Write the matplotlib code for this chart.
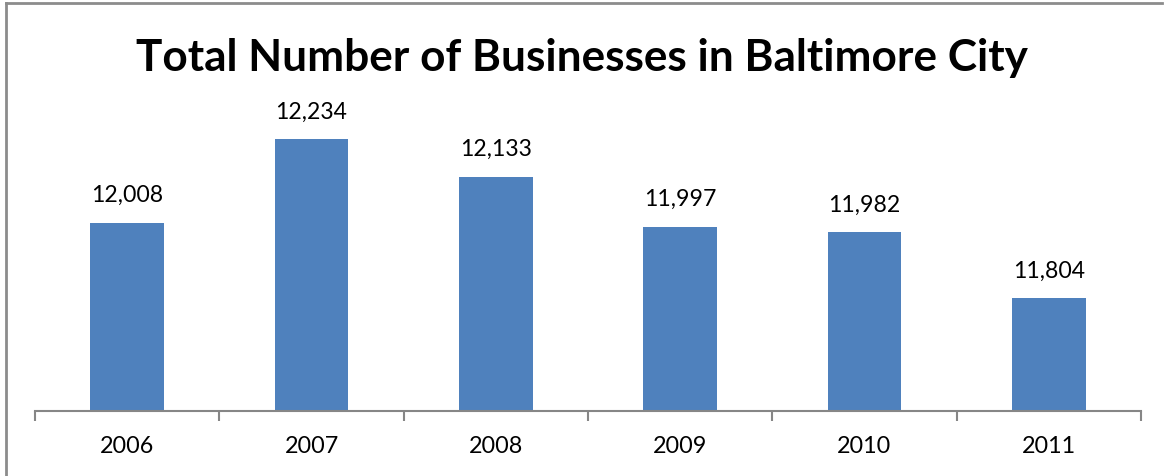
import matplotlib.pyplot as plt
from matplotlib.lines import Line2D

years = ['2006', '2007', '2008', '2009', '2010', '2011']
businesses = [12008, 12234, 12133, 11997, 11982, 11804]

plt.rcParams['font.family'] = ['Lato', 'DejaVu Sans']

W, H = 1164, 476
fig = plt.figure(figsize=(W / 100, H / 100), dpi=100)

# plot area in pixel coords
x0, x1 = 35, 1141
ybase, ytop = 411, 100
ax = fig.add_axes([x0 / W, (H - ybase) / H, (x1 - x0) / W, (ybase - ytop) / H])

pos = list(range(len(years)))
ax.bar(pos, businesses, width=0.4, color='#4F81BD', bottom=0)
ax.set_xlim(-0.5, len(years) - 0.5)
ax.set_ylim(11500, 11500 + (ybase - ytop) * 2.7)

for p, v in zip(pos, businesses):
    ax.annotate(f'{v:,}', (p, v), xytext=(0, 12), textcoords='offset points',
                ha='center', va='bottom', fontsize=16.6)

for s in ['top', 'right', 'left']:
    ax.spines[s].set_visible(False)
ax.spines['bottom'].set_color('#868686')
ax.spines['bottom'].set_linewidth(1.5)
ax.set_yticks([])
ax.set_xticks(pos)
ax.set_xticklabels(years, fontsize=16.8)
ax.set_xticks([i - 0.5 for i in range(len(years) + 1)], minor=True)
ax.tick_params(axis='x', which='major', length=0, pad=18)
ax.tick_params(axis='x', which='minor', length=7, width=1.5, color='#868686')

fig.text(0.5, (H - 58) / H, 'Total Number of Businesses in Baltimore City',
         ha='center', va='center', fontsize=31.8, fontweight='bold')

# chart border
fig.add_artist(Line2D([6 / W, 6 / W], [0, (H - 3) / H], color='#8c8c8c', lw=2))
fig.add_artist(Line2D([6 / W, 1162 / W], [(H - 3) / H, (H - 3) / H], color='#8c8c8c', lw=2))

fig.savefig('out.png', dpi=100)
